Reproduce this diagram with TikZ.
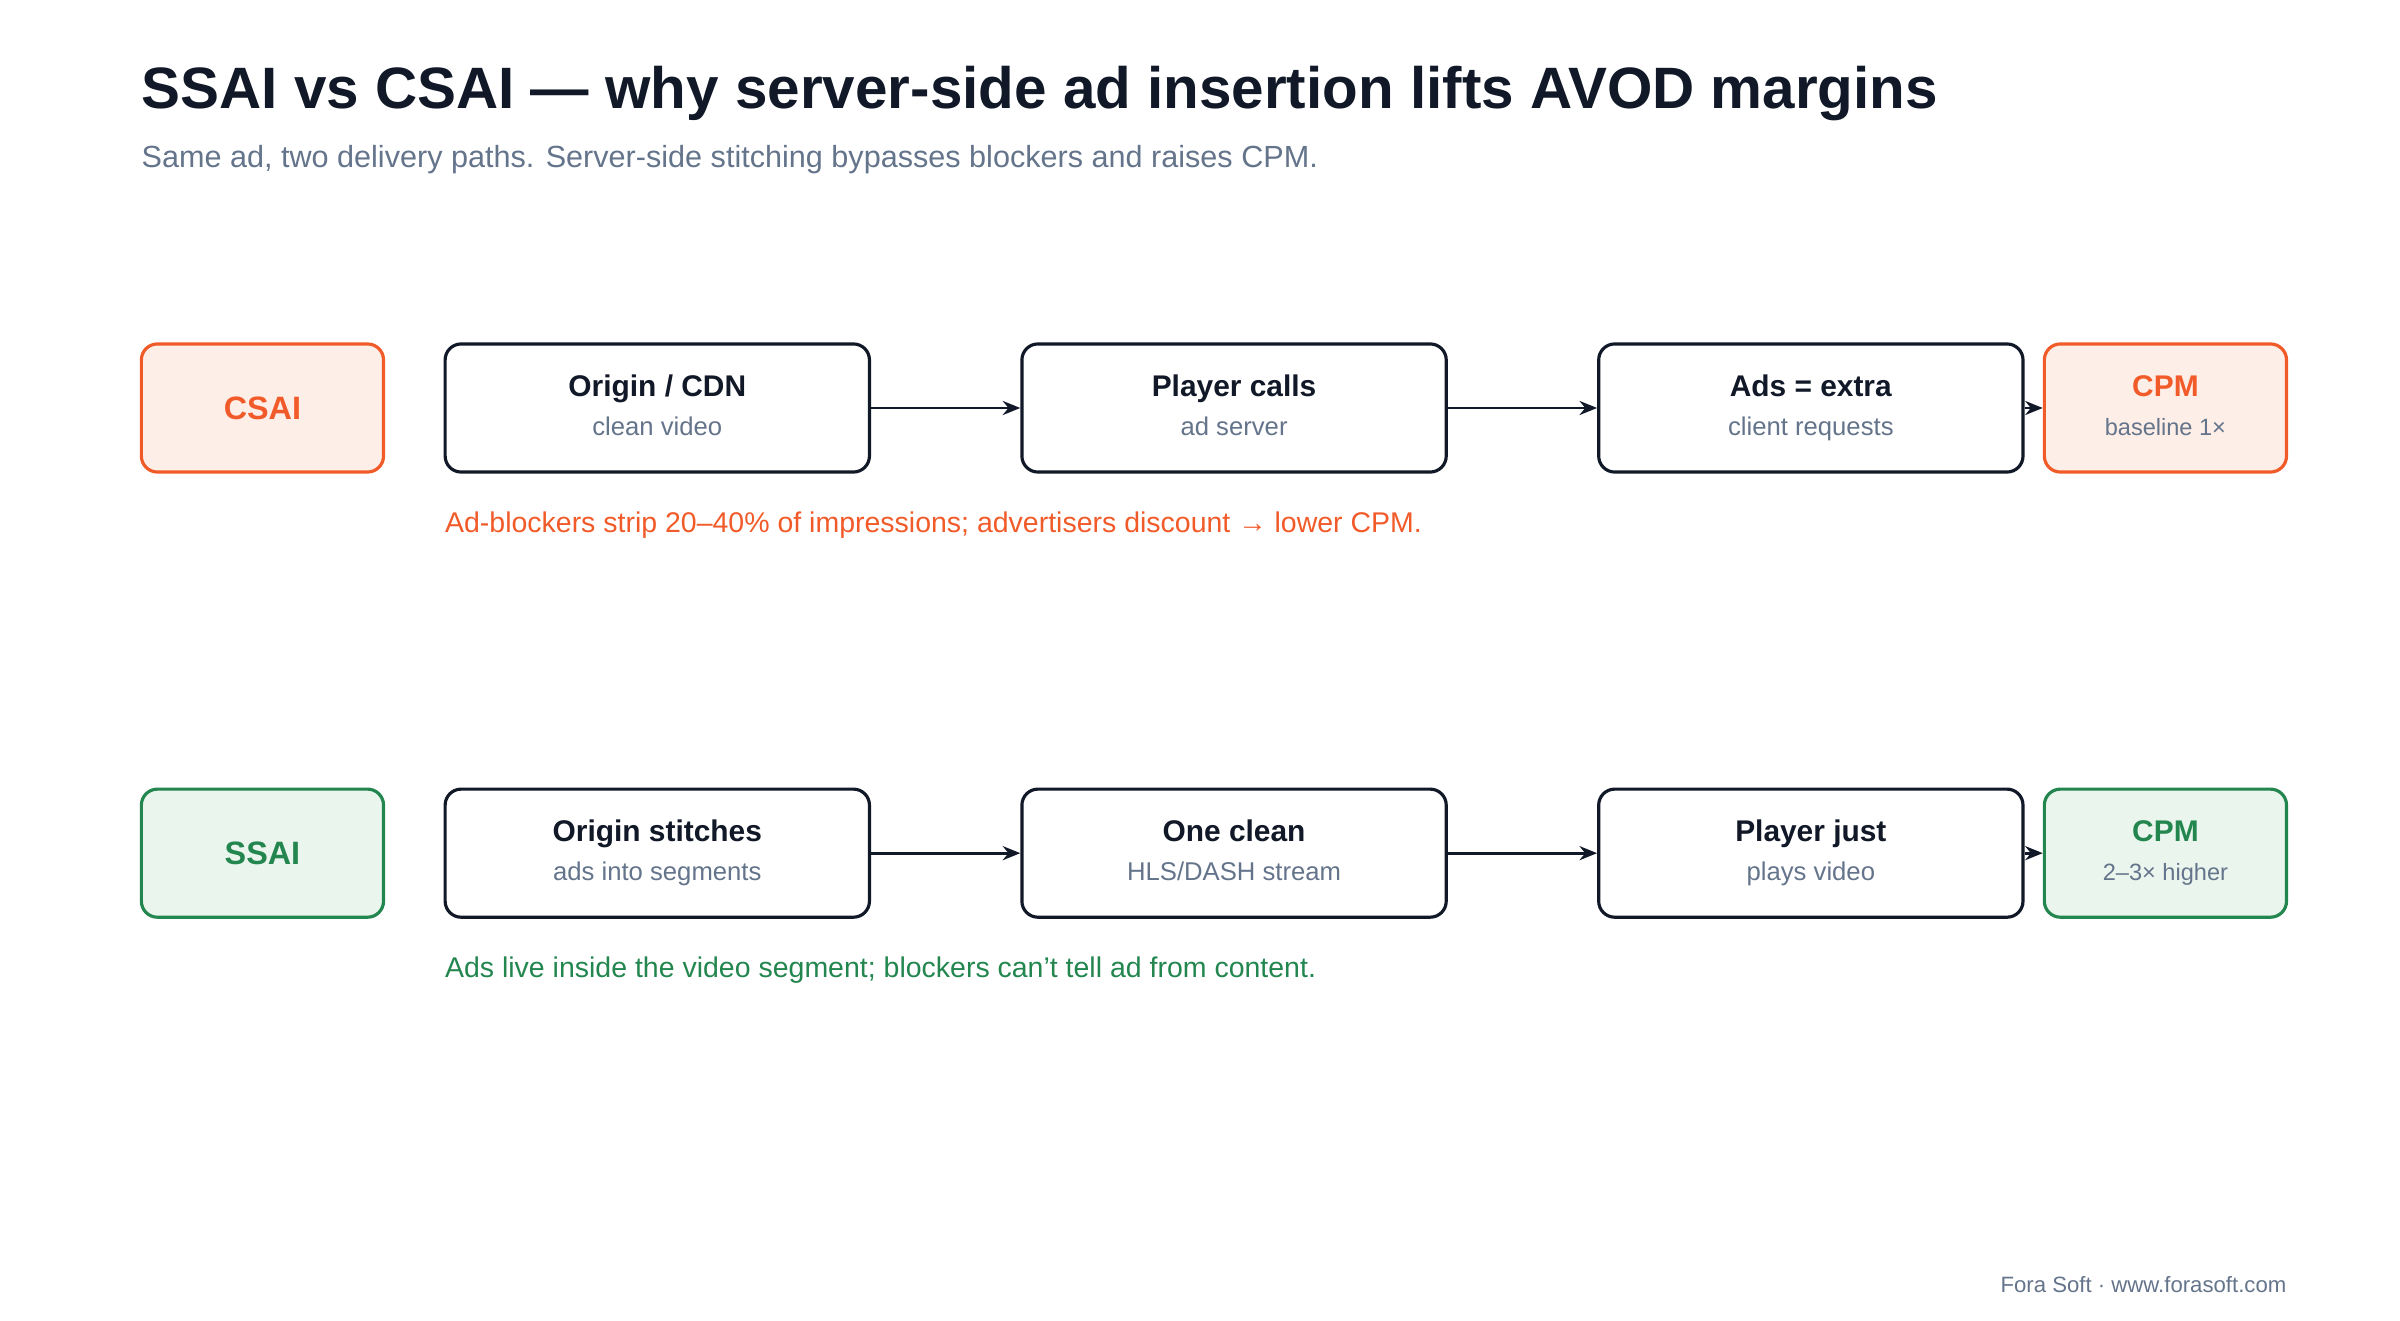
\documentclass[tikz,border=0pt]{standalone}
\usepackage{fontspec}
\setmainfont{Liberation Sans}
\usetikzlibrary{positioning,arrows.meta}
\definecolor{ink}{HTML}{111827}
\definecolor{slate}{HTML}{64748B}
\definecolor{csaicol}{HTML}{F15A29}
\definecolor{csaifill}{HTML}{FDEEE7}
\definecolor{ssaicol}{HTML}{23864F}
\definecolor{ssaifill}{HTML}{EAF5EE}
\newcommand{\twoline}[2]{\textbf{\fontsize{8.5}{10}\selectfont\vphantom{Ag}#1}\\[-1pt]{\fontsize{7.3}{9}\selectfont\color{slate}\vphantom{Ag}#2}}
\begin{document}
\begin{tikzpicture}[x=0.01548cm,y=-0.01548cm,
                    step box/.style={draw=ink,line width=0.9pt,rounded corners=0.16cm,fill=white,
                      minimum width=4.24cm,minimum height=1.28cm,align=center,text=ink},
                    tag box/.style={line width=0.9pt,rounded corners=0.16cm,
                      minimum width=2.42cm,minimum height=1.28cm,align=center},
                    flow/.style={-{Stealth[length=5pt,width=4pt]},line width=0.8pt,draw=ink},
                    note/.style={anchor=base west,inner sep=0pt}
                   ]
  \useasboundingbox (0,0) rectangle (1550,852.7);
  % heading
  \node[note,text=ink,font=\fontsize{16.6}{20}\selectfont\bfseries] (title) at (91,70)
       {SSAI vs CSAI — why server-side ad insertion lifts AVOD margins};
  \node[note,text=slate,font=\fontsize{8.7}{11}\selectfont] (sub) at (91,108)
       {Same ad, two delivery paths. Server-side stitching bypasses blockers and raises CPM.};

  % client-side row
  \node[tag box,draw=csaicol,fill=csaifill,text=csaicol,font=\fontsize{9.2}{11}\selectfont\bfseries] (csai) at (169.5,263.5) {CSAI};
  \node[step box] (c1) at (424.5,263.5) {\twoline{Origin / CDN}{clean video}};
  \node[step box] (c2) at (797,263.5) {\twoline{Player calls}{ad server}};
  \node[step box] (c3) at (1169.5,263.5) {\twoline{Ads = extra}{client requests}};
  \node[tag box,draw=csaicol,fill=csaifill] (c4) at (1398.5,263.5)
       {{\color{csaicol}\textbf{\fontsize{8.5}{10}\selectfont\vphantom{Ag}CPM}}\\[-1pt]{\fontsize{6.7}{9}\selectfont\color{slate}\vphantom{Ag}baseline 1×}};
  \draw[flow] (c1) -- (c2);
  \draw[flow] (c2) -- (c3);
  \draw[flow] (c3) -- (c4);
  \node[note,text=csaicol,font=\fontsize{8.1}{10}\selectfont] (cnote) at (287,344)
       {Ad-blockers strip 20–40\% of impressions; advertisers discount → lower CPM.};

  % server-side row
  \node[tag box,draw=ssaicol,fill=ssaifill,text=ssaicol,font=\fontsize{9.2}{11}\selectfont\bfseries] (ssai) at (169.5,551) {SSAI};
  \node[step box] (s1) at (424.5,551) {\twoline{Origin stitches}{ads into segments}};
  \node[step box] (s2) at (797,551) {\twoline{One clean}{HLS/DASH stream}};
  \node[step box] (s3) at (1169.5,551) {\twoline{Player just}{plays video}};
  \node[tag box,draw=ssaicol,fill=ssaifill] (s4) at (1398.5,551)
       {{\color{ssaicol}\textbf{\fontsize{8.5}{10}\selectfont\vphantom{Ag}CPM}}\\[-1pt]{\fontsize{6.7}{9}\selectfont\color{slate}\vphantom{Ag}2–3× higher}};
  \draw[flow] (s1) -- (s2);
  \draw[flow] (s2) -- (s3);
  \draw[flow] (s3) -- (s4);
  \node[note,text=ssaicol,font=\fontsize{8.1}{10}\selectfont] (snote) at (287,631)
       {Ads live inside the video segment; blockers can’t tell ad from content.};

  \node[anchor=base east,inner sep=0pt,text=slate,font=\fontsize{6.3}{8}\selectfont] (foot) at (1477,835)
       {Fora Soft · www.forasoft.com};
\end{tikzpicture}
\end{document}
